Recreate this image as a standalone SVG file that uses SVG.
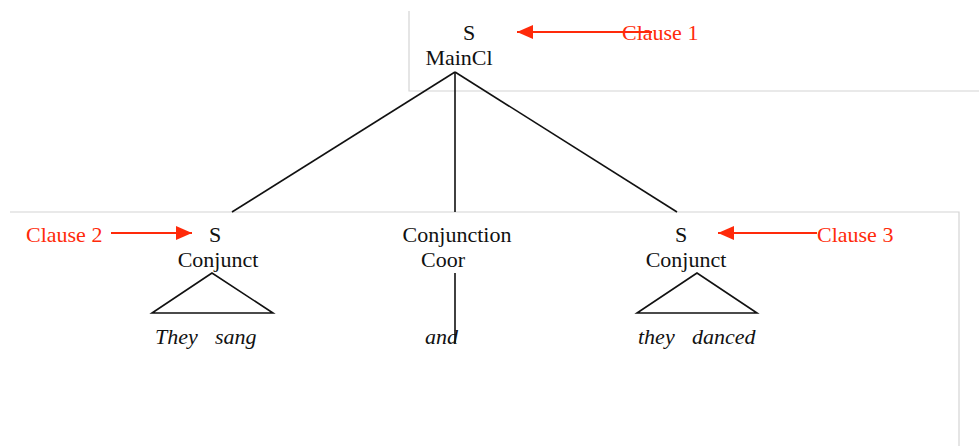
<svg xmlns="http://www.w3.org/2000/svg" width="979" height="446" viewBox="0 0 979 446">
  <defs>
    <marker id="arrow" viewBox="0 0 10 10" refX="10" refY="5" markerWidth="10" markerHeight="10" markerUnits="userSpaceOnUse" orient="auto">
      <path d="M0,0 L10,5 L0,10 Z" fill="#ff2a0a"/>
    </marker>
    <marker id="arrowBig" viewBox="0 0 16 14" refX="16" refY="7" markerWidth="16" markerHeight="14" markerUnits="userSpaceOnUse" orient="auto">
      <path d="M0,0 L16,7 L0,14 Z" fill="#ff2a0a"/>
    </marker>
  </defs>
  <style>
    .lbl { font-family: "Liberation Serif", "Times New Roman", serif; font-size: 22px; fill: #111; text-anchor: middle; }
    .word { font-family: "Liberation Serif", "Times New Roman", serif; font-size: 22px; font-style: italic; fill: #111; }
    .note { font-family: "Liberation Serif", "Times New Roman", serif; font-size: 22px; fill: #ff2a0a; }
    .edge { stroke: #111; stroke-width: 1.6; fill: none; }
    .frame { stroke: #d4d4d4; stroke-width: 1.2; fill: none; }
    .pointer { stroke: #ff2a0a; stroke-width: 1.8; fill: none; }
  </style>
  <rect width="979" height="446" fill="#fff"/>

  <!-- light frame lines -->
  <g id="frames">
    <path class="frame" d="M409,11 V91 H979"/>
    <path class="frame" d="M10,212 H959 V446"/>
  </g>

  <!-- tree connectors -->
  <g id="connectors">
    <line class="edge" x1="455" y1="72" x2="232" y2="212"/>
    <line class="edge" x1="455" y1="72" x2="455" y2="212"/>
    <line class="edge" x1="455" y1="72" x2="677" y2="212"/>
    <line class="edge" x1="455" y1="273" x2="455" y2="343"/>
    <path class="edge" d="M212,273 L152,313 H273 Z" stroke-linejoin="miter"/>
    <path class="edge" d="M697,273 L637,313 H757 Z"/>
  </g>

  <g id="main-clause">
    <text class="lbl" x="469" y="40">S</text>
    <text class="lbl" x="459" y="65">MainCl</text>
  </g>

  <g id="conjunct-1">
    <text class="lbl" x="215" y="242">S</text>
    <text class="lbl" x="218" y="267">Conjunct</text>
    <text class="word" x="155" y="344">They</text>
    <text class="word" x="215" y="344">sang</text>
  </g>

  <g id="coordinator">
    <text class="lbl" x="457" y="242">Conjunction</text>
    <text class="lbl" x="443" y="267">Coor</text>
    <text class="word" x="425" y="344">and</text>
  </g>

  <g id="conjunct-2">
    <text class="lbl" x="681" y="242">S</text>
    <text class="lbl" x="686" y="267">Conjunct</text>
    <text class="word" x="638" y="344">they</text>
    <text class="word" x="692" y="344">danced</text>
  </g>

  <!-- clause annotations -->
  <g id="clause-1">
    <line class="pointer" x1="652" y1="32" x2="517" y2="32" marker-end="url(#arrowBig)"/>
    <text class="note" x="622" y="40">Clause 1</text>
  </g>
  <g id="clause-2">
    <text class="note" x="26" y="242">Clause 2</text>
    <line class="pointer" x1="111" y1="233" x2="192" y2="233" marker-end="url(#arrowBig)"/>
  </g>
  <g id="clause-3">
    <line class="pointer" x1="817" y1="233" x2="718" y2="233" marker-end="url(#arrowBig)"/>
    <text class="note" x="817" y="242">Clause 3</text>
  </g>
</svg>
